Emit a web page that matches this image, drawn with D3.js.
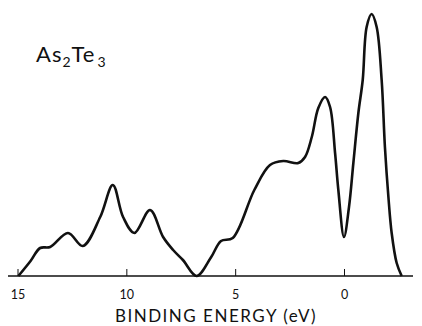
<!DOCTYPE html>
<html>
<head>
<script src="https://d3js.org/d3.v7.min.js"></script>
<style>
  body { margin: 0; background: #fff; }
  text { font-family: "Lato", "DejaVu Sans", sans-serif; fill: #111; }
</style>
</head>
<body>
<svg id="chart" width="422" height="326"></svg>
<script>
// binding energy (eV) and intensity
const energy = [14.96, 14.4, 13.96, 13.5, 12.68, 12.0, 11.2, 10.62, 10.15, 9.63, 8.91, 8.31, 7.85, 7.4, 6.77,
  6.1, 5.65, 5.11, 4.12, 3.4, 2.79, 2.1, 1.79, 1.48, 1.18, 0.87, 0.64, 0.41, 0.26, 0.0, -0.23, -0.43, -0.66,
  -0.86, -1.04, -1.27, -1.5, -1.73, -1.88, -2.04, -2.19, -2.42, -2.65];
const intensity = [0, 15, 28, 29, 43, 30, 59, 91, 59, 43, 66, 39, 26, 16, 0,
  19, 35, 38, 86, 111, 115, 113, 119, 139, 168, 179, 169, 123, 86, 39, 69, 113, 163,
  196, 249, 262, 249, 196, 129, 79, 43, 13, 0];
const tickValues = [15, 10, 5, 0];

const svg = d3.select("#chart");
const baseY = 276;

const x = d3.scaleLinear().domain([15, 0]).range([17.5, 344]);
const y = d3.scaleLinear().domain([0, 262]).range([baseY, 14]);

// axis line
svg.append("line")
  .attr("x1", 8).attr("x2", 413)
  .attr("y1", baseY).attr("y2", baseY)
  .attr("stroke", "#111").attr("stroke-width", 1.5);

const axis = d3.axisBottom(x).tickValues(tickValues).tickSize(-7).tickPadding(14);
const g = svg.append("g").attr("transform", `translate(0,${baseY})`).call(axis);
g.select(".domain").remove();
g.selectAll(".tick line").attr("stroke", "#111").attr("stroke-width", 1);
g.selectAll(".tick text").attr("font-size", 12.5).attr("font-family", "Lato, sans-serif").attr("fill", "#111");

svg.append("text")
  .attr("x", 216).attr("y", 322)
  .attr("text-anchor", "middle")
  .attr("font-size", 17)
  .attr("letter-spacing", 1.5)
  .text("BINDING ENERGY (eV)");

// formula label
const lbl = svg.append("text").attr("x", 36).attr("y", 62).attr("font-size", 22).attr("letter-spacing", 1);
lbl.append("tspan").text("As");
lbl.append("tspan").attr("font-size", 14).attr("dy", 5).text("2");
lbl.append("tspan").attr("dy", -5).text("Te");
lbl.append("tspan").attr("font-size", 14).attr("dy", 5).attr("dx", 2).text("3");

const pts = energy.map((e, i) => [e, intensity[i]]);
const line = d3.line()
  .x(d => x(d[0]))
  .y(d => y(d[1]))
  .curve(d3.curveCatmullRom.alpha(0.5));

svg.append("path")
  .datum(pts)
  .attr("d", line)
  .attr("fill", "none")
  .attr("stroke", "#111")
  .attr("stroke-width", 2.6)
  .attr("stroke-linejoin", "round");
</script>
</body>
</html>
